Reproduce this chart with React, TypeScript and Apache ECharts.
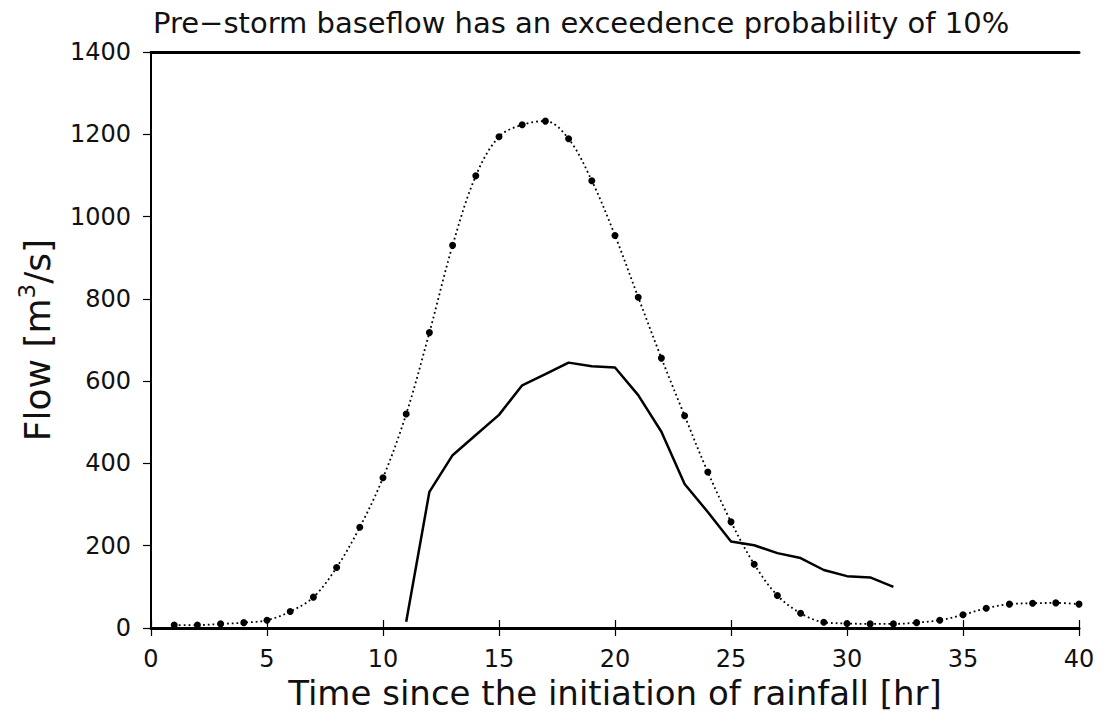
import React, { useEffect, useRef } from "react";
import * as echarts from "echarts";

const titleText = "Pre\u2212storm baseflow has an exceedence probability of 10%";
const xAxisName = "Time since the initiation of rainfall [hr]";

// Dotted series (hourly, t = 1..40)
const dottedHours = [1, 2, 3, 4, 5, 6, 7, 8, 9, 10, 11, 12, 13, 14, 15, 16, 17, 18, 19, 20,
  21, 22, 23, 24, 25, 26, 27, 28, 29, 30, 31, 32, 33, 34, 35, 36, 37, 38, 39, 40];
const dottedFlow = [7, 7, 10, 13, 19, 40, 75, 147, 245, 365, 520, 718, 930, 1099, 1194, 1223, 1232, 1189, 1087, 954,
  804, 656, 516, 379, 258, 155, 79, 36, 14, 11, 10, 10, 13, 19, 32, 48, 58, 60, 61, 58];

// Solid series
const solidHours = [11, 12, 13, 14, 15, 16, 17, 18, 19, 20, 21, 22, 23, 24, 25, 26, 27, 28, 29, 30, 31, 32];
const solidFlow = [15, 331, 420, 469, 518, 590, 617, 645, 636, 633, 566, 477, 350, 282, 210, 201, 182, 170, 141, 126, 123, 100];

const xTicks = { min: 0, max: 40, interval: 5 };
const yTicks = { min: 0, max: 1400, interval: 200 };

const FONT = "'DejaVu Sans', sans-serif";

export default function App() {
  const ref = useRef<HTMLDivElement>(null);
  useEffect(() => {
    if (!ref.current) return;
    const chart = echarts.init(ref.current, null, { renderer: "svg" });
    const dotted = dottedHours.map((h, i) => [h, dottedFlow[i]]);
    const solid = solidHours.map((h, i) => [h, solidFlow[i]]);
    chart.setOption({
      animation: false,
      backgroundColor: "#fff",
      title: {
        text: titleText,
        left: 148,
        top: 3,
        textStyle: { fontFamily: FONT, fontWeight: "normal", fontSize: 29, color: "#111" },
      },
      grid: { left: 151, right: 36, top: 52, bottom: 100 },
      xAxis: [
        {
          type: "value",
          position: "bottom",
          min: xTicks.min,
          max: xTicks.max,
          interval: xTicks.interval,
          name: xAxisName,
          nameLocation: "middle",
          nameGap: 42,
          nameTextStyle: { fontFamily: FONT, fontSize: 34, color: "#111" },
          axisLine: { show: true, lineStyle: { color: "#000", width: 3 } },
          axisTick: { show: true, inside: false, length: 8, lineStyle: { color: "#000", width: 1.2 } },
          axisLabel: { fontFamily: FONT, fontSize: 24, color: "#111", margin: 19, formatter: (v: number) => String(v) },
          splitLine: { show: false },
        },
        {
          type: "value",
          position: "bottom",
          min: xTicks.min,
          max: xTicks.max,
          interval: xTicks.interval,
          axisLine: { show: false },
          axisTick: { show: true, inside: true, length: 8, lineStyle: { color: "#000", width: 1.2 } },
          axisLabel: { show: false },
          splitLine: { show: false },
        },
        {
          type: "value",
          position: "top",
          min: xTicks.min,
          max: xTicks.max,
          axisLine: { show: true, lineStyle: { color: "#000", width: 3 } },
          axisTick: { show: false },
          axisLabel: { show: false },
          splitLine: { show: false },
        },
      ],
      yAxis: [
        {
          type: "value",
          position: "left",
          min: yTicks.min,
          max: yTicks.max,
          interval: yTicks.interval,
          name: "{a|Flow [m}{b|3}{a|/s]}",
          nameLocation: "middle",
          nameGap: 96,
          nameRotate: 90,
          nameTextStyle: {
            rich: {
              a: { fontFamily: FONT, fontSize: 36, color: "#111", verticalAlign: "bottom", lineHeight: 40 },
              b: { fontFamily: FONT, fontSize: 23, color: "#111", verticalAlign: "top", lineHeight: 40 },
            },
          },
          axisLine: { show: true, lineStyle: { color: "#000", width: 1.5 } },
          axisTick: { show: true, inside: false, length: 8, lineStyle: { color: "#000", width: 1.2 } },
          axisLabel: { fontFamily: FONT, fontSize: 24, color: "#111", margin: 20, formatter: (v: number) => String(v) },
          splitLine: { show: false },
        },
        {
          type: "value",
          position: "right",
          min: yTicks.min,
          max: yTicks.max,
          interval: yTicks.interval,
          axisLine: { show: true, lineStyle: { color: "#000", width: 2 } },
          axisTick: { show: false },
          axisLabel: { show: false },
          splitLine: { show: false },
        },
      ],
      series: [
        {
          type: "line",
          data: dotted,
          smooth: 0.35,
          symbol: "circle",
          symbolSize: 7,
          itemStyle: { color: "#000" },
          lineStyle: { color: "#000", width: 1.8, type: [1.8, 3] },
          z: 3,
        },
        {
          type: "line",
          data: solid,
          smooth: false,
          showSymbol: false,
          symbol: "none",
          lineStyle: { color: "#000", width: 2.5 },
          z: 2,
        },
      ],
    });
    return () => chart.dispose();
  }, []);
  return <div ref={ref} style={{ width: 1115, height: 728, position: "absolute", left: 0, top: 0 }} />;
}
